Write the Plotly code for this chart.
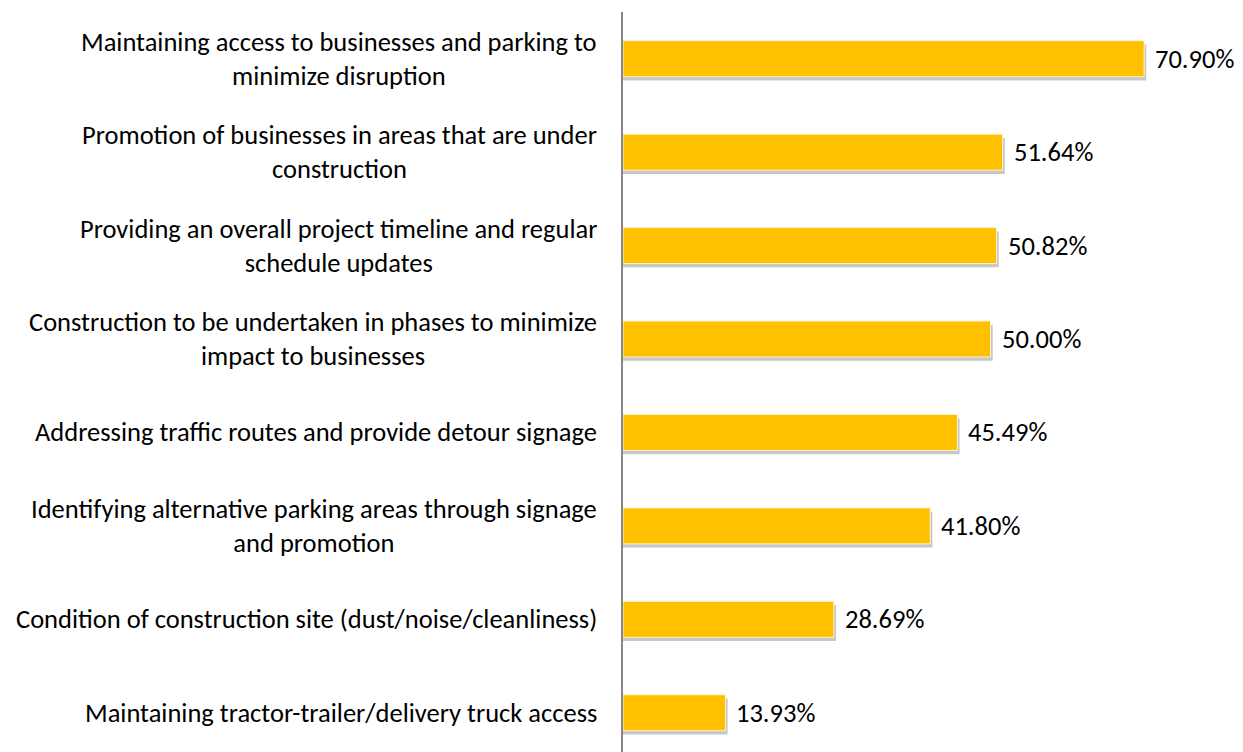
import plotly.graph_objects as go

# survey results, top to bottom
categories = [
    "Maintaining access to businesses and parking to<br>minimize disruption",
    "Promotion of businesses in areas that are under<br>construction",
    "Providing an overall project timeline and regular<br>schedule updates",
    "Construction to be undertaken in phases to minimize<br>impact to businesses",
    "Addressing traffic routes and provide detour signage",
    "Identifying alternative parking areas through signage<br>and promotion",
    "Condition of construction site (dust/noise/cleanliness)",
    "Maintaining tractor-trailer/delivery truck access",
]
values = [70.90, 51.64, 50.82, 50.00, 45.49, 41.80, 28.69, 13.93]

BAR = "#FFC000"
FONT = "Calibri, Carlito, Lato, sans-serif"
FONT_SIZE = 26.5
BAR_W = 0.385

fig = go.Figure()

# soft drop shadow behind each bar
fig.add_trace(go.Bar(
    y=categories, x=[v + 0.3 for v in values], orientation="h",
    width=BAR_W, offset=-BAR_W / 2 + 0.04,
    marker=dict(color="rgba(0,0,0,0.22)", line=dict(width=0)),
    hoverinfo="skip", showlegend=False,
))
fig.add_trace(go.Bar(
    y=categories, x=values, orientation="h",
    width=BAR_W, offset=-BAR_W / 2,
    marker=dict(color=BAR, line=dict(color="#FFF3CC", width=1)),
    showlegend=False,
))

# category labels (centered multi-line, right edge near the axis)
for cat in categories:
    fig.add_annotation(
        x=0, xref="paper", y=cat, yref="y", text=cat,
        xanchor="right", xshift=-24, align="center", showarrow=False,
        font=dict(family=FONT, size=FONT_SIZE, color="#000000"),
    )

# value labels
for cat, v in zip(categories, values):
    fig.add_annotation(
        x=v, y=cat, text=f"{v:.2f}%", xanchor="left", xshift=9,
        showarrow=False, font=dict(family=FONT, size=FONT_SIZE, color="#000000"),
    )

# page body adds an 8px margin, so the figure is 8px smaller than the window
fig.update_layout(
    width=1235, height=744, barmode="overlay",
    paper_bgcolor="white", plot_bgcolor="white",
    margin=dict(l=615, r=32, t=4, b=0),
    font=dict(family=FONT),
)
fig.update_xaxes(range=[0, 80], visible=False)
fig.update_yaxes(
    categoryorder="array", categoryarray=categories,
    range=[7.42, -0.5], showticklabels=False, ticks="",
    showgrid=False, zeroline=False,
    showline=True, linecolor="#868686", linewidth=2,
)

fig.write_html("out.html")
